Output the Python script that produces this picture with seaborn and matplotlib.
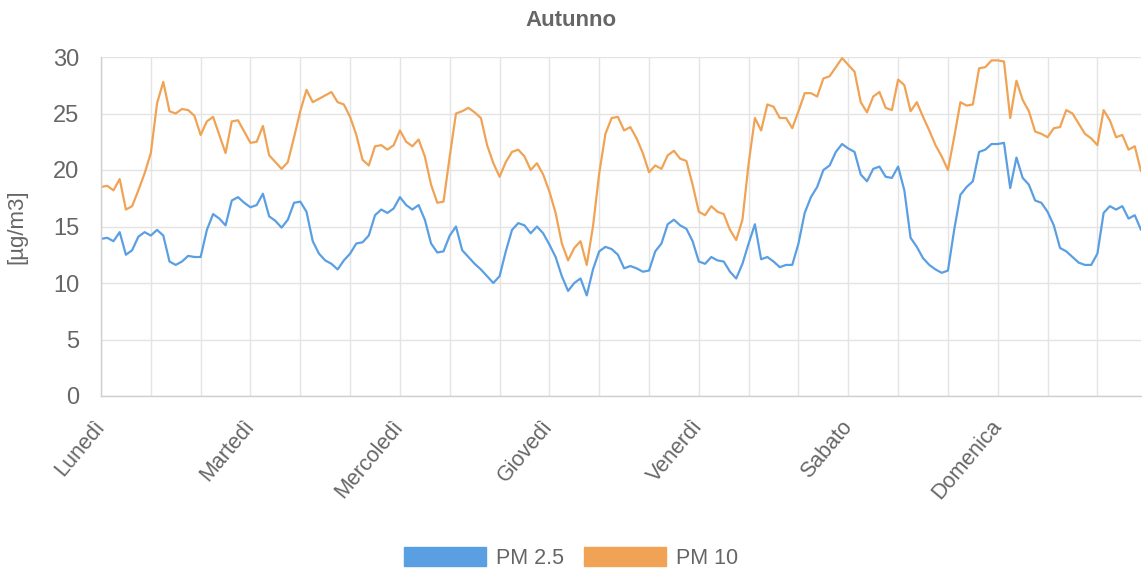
import matplotlib
matplotlib.use("Agg")
import matplotlib.pyplot as plt
from matplotlib.patches import Patch
import numpy as np
import pandas as pd
import seaborn as sns


DAYS = ["Lunedì", "Martedì", "Mercoledì", "Giovedì", "Venerdì", "Sabato", "Domenica"]

# hourly values, 24 per day
PM25 = [
    13.9, 14.0, 13.7, 14.5, 12.5, 12.9, 14.1, 14.5, 14.2, 14.7, 14.2, 11.9,
    11.6, 11.9, 12.4, 12.3, 12.3, 14.7, 16.1, 15.7, 15.1, 17.3, 17.6, 17.1,
    16.7, 16.9, 17.9, 15.9, 15.5, 14.9, 15.6, 17.1, 17.2, 16.3, 13.7, 12.6,
    12.0, 11.7, 11.2, 12.0, 12.6, 13.5, 13.6, 14.2, 16.0, 16.5, 16.2, 16.6,
    17.6, 16.9, 16.5, 16.9, 15.6, 13.5, 12.7, 12.8, 14.2, 15.0, 12.9, 12.3,
    11.7, 11.2, 10.6, 10.0, 10.6, 12.8, 14.7, 15.3, 15.1, 14.4, 15.0, 14.4,
    13.4, 12.3, 10.6, 9.3, 10.0, 10.4, 8.9, 11.2, 12.8, 13.2, 13.0, 12.5,
    11.3, 11.5, 11.3, 11.0, 11.1, 12.8, 13.5, 15.2, 15.6, 15.1, 14.8, 13.7,
    11.9, 11.7, 12.3, 12.0, 11.9, 11.0, 10.4, 11.7, 13.5, 15.2, 12.1, 12.3,
    11.9, 11.4, 11.6, 11.6, 13.5, 16.2, 17.6, 18.5, 20.0, 20.4, 21.6, 22.3,
    21.9, 21.6, 19.6, 19.0, 20.1, 20.3, 19.4, 19.3, 20.3, 18.2, 14.0, 13.2,
    12.2, 11.6, 11.2, 10.9, 11.1, 14.7, 17.8, 18.5, 19.0, 21.6, 21.8, 22.3,
    22.3, 22.4, 18.4, 21.1, 19.3, 18.7, 17.3, 17.1, 16.3, 15.1, 13.1, 12.8,
    12.3, 11.8, 11.6, 11.6, 12.6, 16.2, 16.8, 16.5, 16.8, 15.7, 16.0, 14.7,
]
PM10 = [
    18.5, 18.6, 18.2, 19.2, 16.5, 16.8, 18.2, 19.7, 21.5, 25.9, 27.8, 25.2,
    25.0, 25.4, 25.3, 24.8, 23.1, 24.3, 24.7, 23.1, 21.5, 24.3, 24.4, 23.4,
    22.4, 22.5, 23.9, 21.3, 20.7, 20.1, 20.7, 22.9, 25.2, 27.1, 26.0, 26.3,
    26.6, 26.9, 26.0, 25.8, 24.7, 23.1, 20.9, 20.4, 22.1, 22.2, 21.8, 22.2,
    23.5, 22.5, 22.1, 22.7, 21.2, 18.7, 17.1, 17.2, 21.2, 25.0, 25.2, 25.5,
    25.1, 24.6, 22.2, 20.6, 19.4, 20.7, 21.6, 21.8, 21.2, 20.0, 20.6, 19.6,
    18.1, 16.2, 13.5, 12.0, 13.1, 13.7, 11.6, 15.0, 19.7, 23.2, 24.6, 24.7,
    23.5, 23.8, 22.8, 21.5, 19.8, 20.4, 20.1, 21.3, 21.7, 21.0, 20.8, 18.7,
    16.3, 16.0, 16.8, 16.3, 16.1, 14.7, 13.8, 15.6, 20.6, 24.6, 23.5, 25.8,
    25.6, 24.6, 24.6, 23.7, 25.2, 26.8, 26.8, 26.5, 28.1, 28.3, 29.1, 29.9,
    29.3, 28.7, 26.0, 25.1, 26.5, 26.9, 25.5, 25.3, 28.0, 27.5, 25.2, 26.0,
    24.7, 23.5, 22.2, 21.2, 20.0, 22.9, 26.0, 25.7, 25.8, 29.0, 29.1, 29.7,
    29.7, 29.6, 24.6, 27.9, 26.2, 25.2, 23.4, 23.2, 22.9, 23.7, 23.8, 25.3,
    25.0, 24.1, 23.2, 22.8, 22.2, 25.3, 24.4, 22.9, 23.1, 21.8, 22.1, 19.9,
]
SERIES = ["PM 2.5", "PM 10"]
COLORS = ["#5b9fe3", "#f0a355"]

sns.set_theme(style="whitegrid")
plt.rcParams["font.family"] = ["Liberation Sans", "DejaVu Sans"]

hours = np.arange(len(PM25))
df = pd.concat([
    pd.DataFrame({"ora": hours, "valore": PM25, "serie": SERIES[0]}),
    pd.DataFrame({"ora": hours, "valore": PM10, "serie": SERIES[1]}),
])

fig = plt.figure(figsize=(11.42, 5.76), dpi=100)
ax = fig.add_axes([101 / 1142, 1 - 396 / 576, 1040 / 1142, 339 / 576])

sns.lineplot(data=df, x="ora", y="valore", hue="serie", palette=COLORS,
             linewidth=1.6, legend=False, ax=ax)

grid_col = "#e4e4e4"
ax.set_xlim(0, len(PM25) - 1)
ax.set_ylim(0, 30)
ax.set_yticks(range(0, 31, 5))
ax.set_xticks(range(0, len(PM25), 8))
ax.set_xticklabels([DAYS[t // 24] if t % 24 == 0 else "" for t in range(0, len(PM25), 8)],
                   rotation=50, ha="right", va="center", rotation_mode="anchor")
ax.grid(True, color=grid_col, linewidth=1)
ax.tick_params(axis="both", length=7.5, width=1, color=grid_col, labelcolor="#666666")
ax.tick_params(axis="y", labelsize=17, pad=8)
ax.tick_params(axis="x", labelsize=15.5, pad=12)
for side in ["top", "right"]:
    ax.spines[side].set_visible(False)
for side in ["left", "bottom"]:
    ax.spines[side].set_color("#cfcfcf")
    ax.spines[side].set_linewidth(1)

ax.set_xlabel("")
ax.set_ylabel("[µg/m3]", fontsize=16, color="#666666")
ax.yaxis.set_label_coords(-74 / 1040, 0.5)

fig.text(0.5, 1 - 21 / 576, "Autunno", ha="center", va="center",
         fontsize=16, fontweight="bold", color="#666666")

handles = [Patch(facecolor=c, edgecolor=c) for c in COLORS]
fig.legend(handles, SERIES, loc="center", bbox_to_anchor=(0.5, 1 - 558 / 576),
           ncol=2, frameon=False, fontsize=15.5, handlelength=3.8, handleheight=1.0,
           handletextpad=0.45, columnspacing=0.95, labelcolor="#666666")

plt.savefig("out.png", dpi=100)
